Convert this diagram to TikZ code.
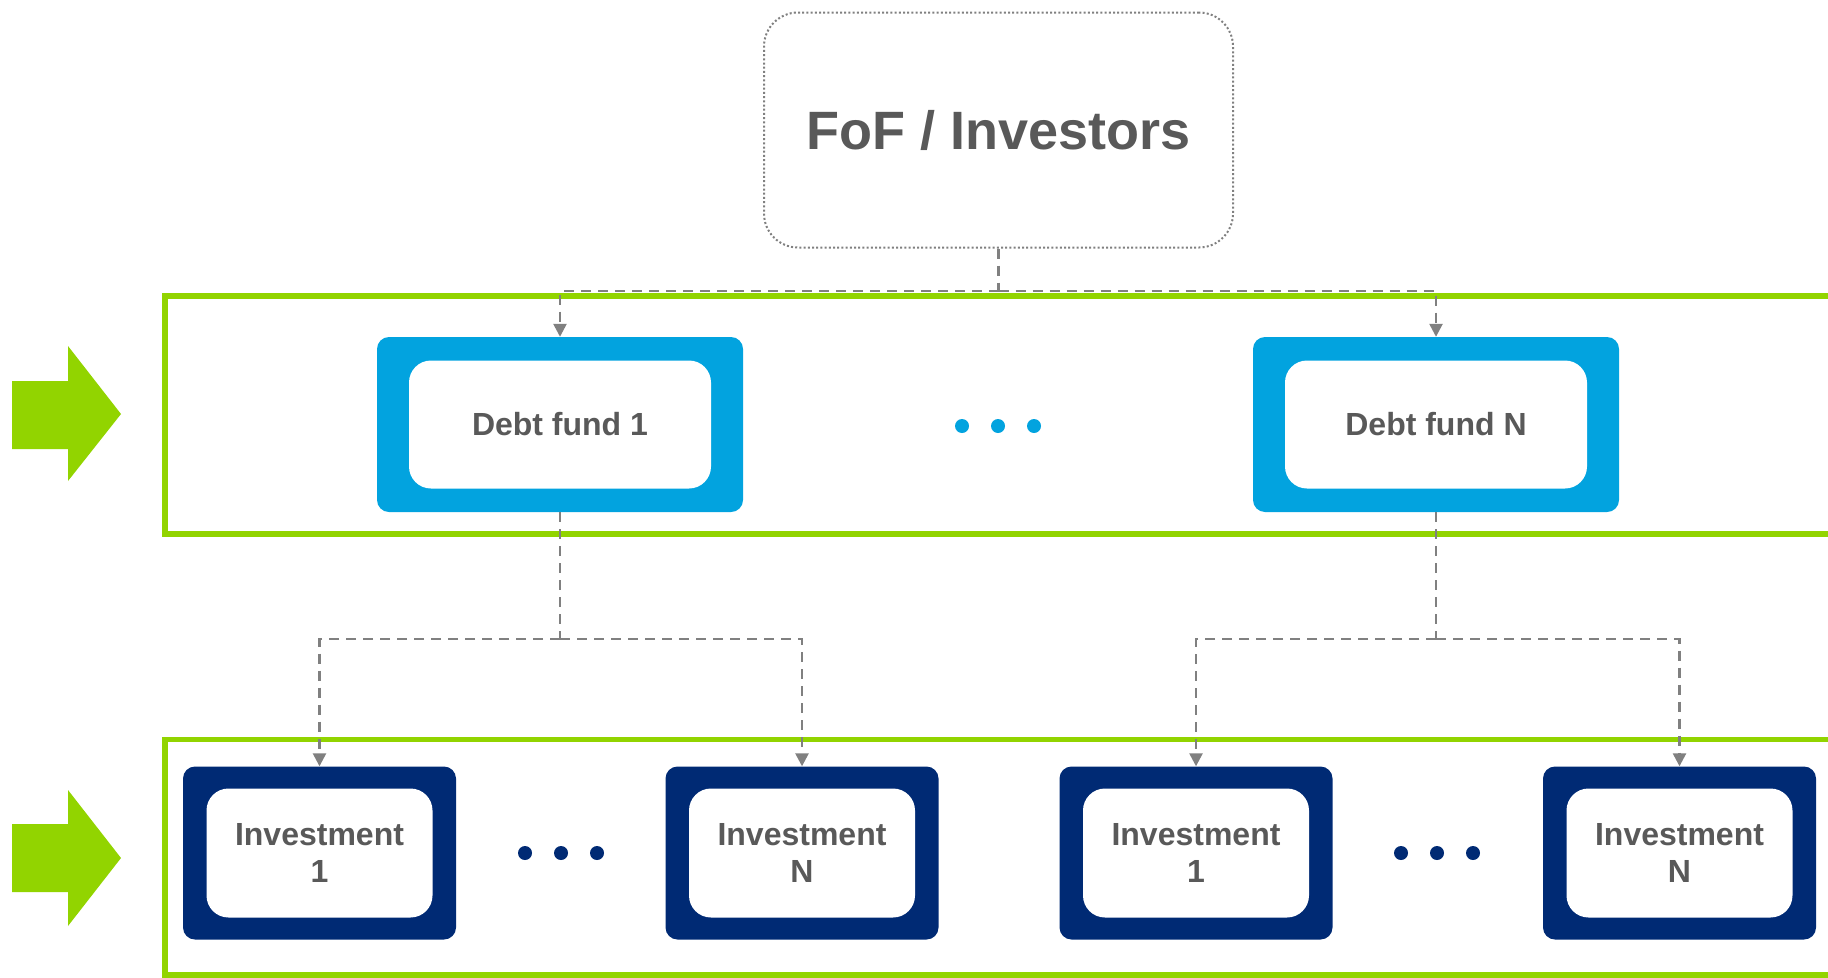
\documentclass[tikz,border=0pt]{standalone}
\usepackage{fontspec}
\setmainfont{Liberation Sans}
\usetikzlibrary{arrows.meta}
\definecolor{lime}{HTML}{92D400}
\definecolor{debtblue}{HTML}{02A3DF}
\definecolor{navy}{HTML}{002A74}
\definecolor{txtgray}{HTML}{595959}
\definecolor{linegray}{HTML}{808080}
\tikzset{
  band/.style={draw=lime, line width=5.5pt},
  pointer/.style={fill=lime},
  fofbox/.style={draw=linegray, line width=2pt, dash pattern=on 2pt off 2.2pt,
    rounded corners=34pt, minimum width=469pt, minimum height=235pt,
    font=\fontsize{54}{60}\selectfont\bfseries, text=txtgray},
  debtouter/.style={fill=debtblue, rounded corners=12pt, minimum width=366pt,
    minimum height=175pt, inner sep=0pt},
  invouter/.style={fill=navy, rounded corners=12pt, minimum width=273pt,
    minimum height=173pt, inner sep=0pt},
  innerbox/.style={fill=white, rounded corners=22pt, inner sep=0pt, align=center,
    font=\fontsize{32}{37}\selectfont\bfseries, text=txtgray},
  debtinner/.style={innerbox, minimum width=302pt, minimum height=128pt},
  invinner/.style={innerbox, minimum width=226pt, minimum height=129pt},
  dotmark/.style={circle, inner sep=0pt, minimum size=14pt},
  conn/.style={draw=linegray, line width=2.5pt, dash pattern=on 10pt off 7pt,
    -{Triangle[width=13pt,length=13pt]}},
  connplain/.style={draw=linegray, line width=2.5pt, dash pattern=on 10pt off 7pt},
}
\begin{document}
\begin{tikzpicture}[x=1pt,y=-1pt]
\useasboundingbox (0,0) rectangle (1828,977);
\clip (0,0) rectangle (1828,977);

% level bands
\draw[band] (165,296) rectangle (1860,534);
\draw[band] (165,739.5) rectangle (1860,975);

% level pointers
\fill[pointer] (12,381) -- (68,381) -- (68,346) -- (121,414) -- (68,481) -- (68,449) -- (12,449) -- cycle;
\fill[pointer] (12,824) -- (68,824) -- (68,790) -- (121,858) -- (68,926) -- (68,892) -- (12,892) -- cycle;

% investors
\node[fofbox] (fof) at (998.5,130) {FoF / Investors};

% debt funds
\node[debtouter] (d1) at (560,424.5) {};
\node[debtinner] (d1t) at (d1.center) {Debt fund 1};
\node[debtouter] (dN) at (1436,424.5) {};
\node[debtinner] (dNt) at (dN.center) {Debt fund N};
\node[dotmark, fill=debtblue] (a1) at (962,426) {};
\node[dotmark, fill=debtblue] (a2) at (998,426) {};
\node[dotmark, fill=debtblue] (a3) at (1034,426) {};

% investments
\node[invouter] (i1) at (319.5,853) {};
\node[invinner] (i1t) at (i1.center) {Investment\\1};
\node[invouter] (i2) at (802,853) {};
\node[invinner] (i2t) at (i2.center) {Investment\\N};
\node[invouter] (i3) at (1196,853) {};
\node[invinner] (i3t) at (i3.center) {Investment\\1};
\node[invouter] (i4) at (1679.5,853) {};
\node[invinner] (i4t) at (i4.center) {Investment\\N};
\node[dotmark, fill=navy] (b1) at (525,853) {};
\node[dotmark, fill=navy] (b2) at (561,853) {};
\node[dotmark, fill=navy] (b3) at (597,853) {};
\node[dotmark, fill=navy] (c1) at (1401,853) {};
\node[dotmark, fill=navy] (c2) at (1437,853) {};
\node[dotmark, fill=navy] (c3) at (1473,853) {};

% connectors
\coordinate (jtop) at (998.5,291);
\coordinate (jbot) at (0,639);
\draw[connplain] (fof.south) -- (fof.south |- jtop);
\draw[conn] (fof.south |- jtop) -| (d1.north);
\draw[conn] (fof.south |- jtop) -| (dN.north);
\draw[connplain] (d1.south) -- (d1.south |- jbot);
\draw[conn] (d1.south |- jbot) -| (i1.north);
\draw[conn] (d1.south |- jbot) -| (i2.north);
\draw[connplain] (dN.south) -- (dN.south |- jbot);
\draw[conn] (dN.south |- jbot) -| (i3.north);
\draw[conn] (dN.south |- jbot) -| (i4.north);
\end{tikzpicture}
\end{document}
